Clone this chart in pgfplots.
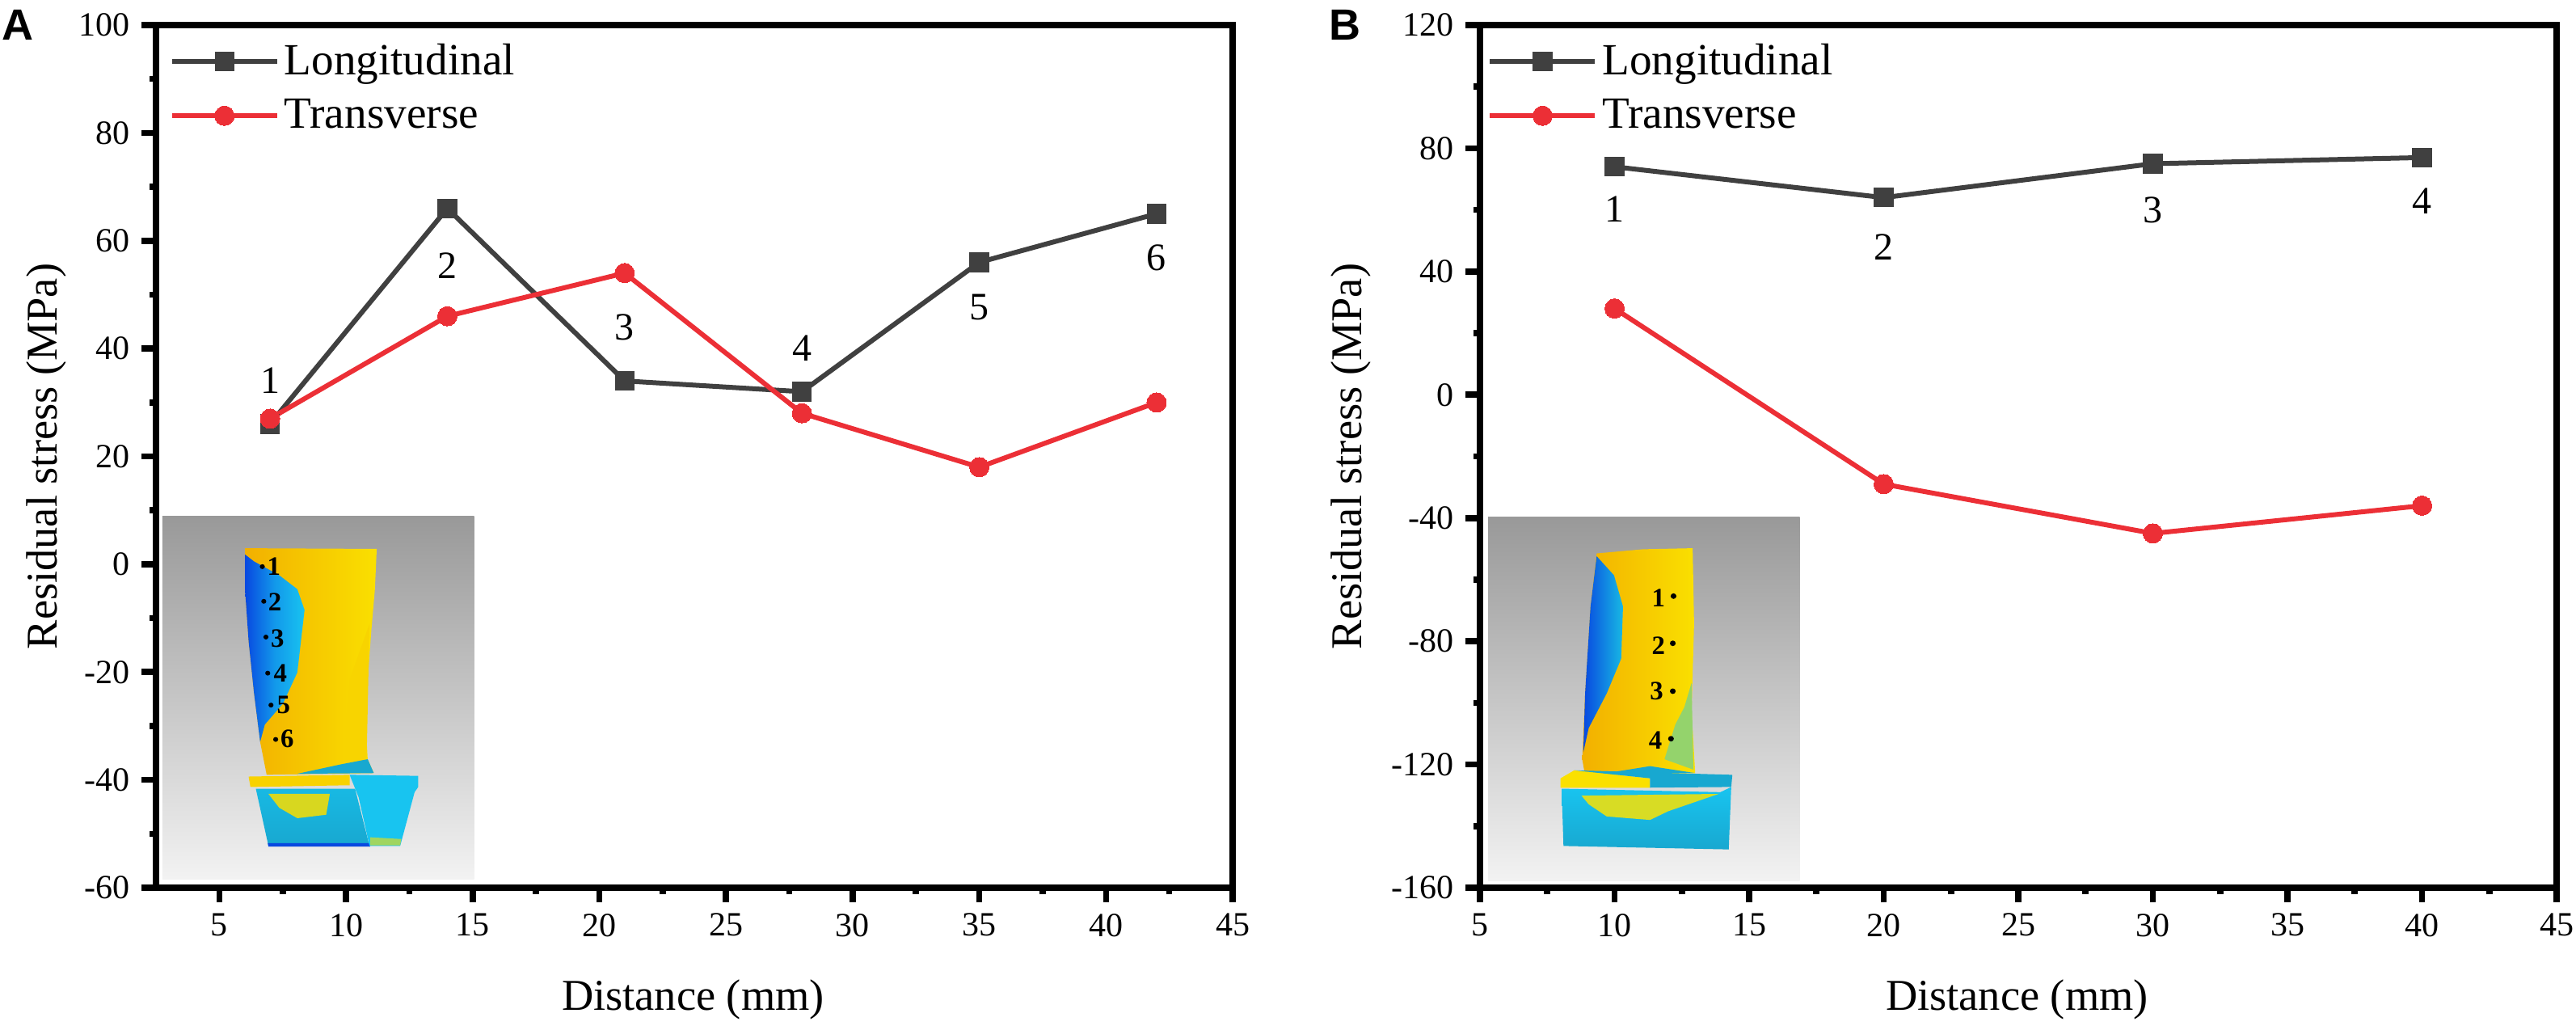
\documentclass[border=0pt]{standalone}
\usepackage{fontspec}
\setmainfont{Liberation Serif}
\newfontfamily\panelfont{Liberation Sans}
\usepackage{pgfplots}
\pgfplotsset{compat=1.18}
\definecolor{darkline}{HTML}{404040}
\definecolor{redline}{HTML}{EC2F36}
\definecolor{byellow}{HTML}{FAE000}
\definecolor{borange}{HTML}{F2B000}
\definecolor{bcyan}{HTML}{18C4F0}
\definecolor{bblue}{HTML}{0848E0}
\definecolor{bteal}{HTML}{18A8D0}
\tikzset{ptlabel/.style={font=\fontsize{12}{14}\selectfont,anchor=center}}
% 1 px of the reference = 0.25pt here
\pgfplotsset{
  panel/.style={
    scale only axis, width=333pt, height=266.75pt,
    axis line style={line width=1.9pt},
    tick pos=left,
    every tick/.style={black,line width=1.9pt},
    major tick length=4.5pt, minor tick length=2pt,
    minor tick num=1,
    tick align=outside,
    /pgf/number format/assume math mode=true,
    /pgf/number format/set thousands separator={},
    tick label style={font=\fontsize{10.5}{12}\selectfont},
    label style={font=\fontsize{13.6}{16}\selectfont},
    xlabel={Distance (mm)},
    ylabel={Residual stress (MPa)},
    xlabel style={at={(axis description cs:0.5,0)},anchor=center,yshift=-34.5pt,xshift=-0.4pt},
    xtick={5,10,...,45},
    legend cell align=left,
    legend image code/.code={
      \draw[##1,mark repeat=2,mark phase=2] plot coordinates {(0pt,0pt)(16.25pt,0pt)(32.5pt,0pt)};
    },
    clip=false,
  },
  longi/.style={color=darkline,line width=1.5pt,mark=square*,mark size=2.9pt,mark options={fill=darkline,draw=darkline,solid,line width=0pt}},
  trans/.style={color=redline,line width=1.5pt,mark=*,mark size=3pt,mark options={fill=redline,draw=redline,solid,line width=0pt}},
}
\begin{document}
\begin{tikzpicture}
\path[use as bounding box] (0,0) rectangle (796.75pt,318.25pt);

% inset A, coordinates as read in the crop
\begin{scope}[x=0.11161pt,y=-0.10730pt,shift={(25pt,168.25pt)}]
  \shade[top color=black!40,bottom color=black!5] (226,90) rectangle (1090,1135);
  \shade[left color=borange,right color=byellow] (455,182)--(820,184)--(815,300)--(805,420)--(795,560)--(790,700)--(795,790)--(812,830)--(515,835)--(497,740)--(480,600)--(465,450)--(455,300)--cycle;
  \fill[byellow!75!borange] (745,560)--(800,400)--(792,790)--(725,805)--cycle;
  \shade[left color=bblue,right color=bcyan,middle color=bblue!35!bcyan] (455,200)--(480,220)--(550,260)--(600,300)--(620,360)--(610,450)--(600,540)--(560,630)--(510,690)--(497,740)--(480,600)--(465,450)--(455,300)--cycle;
  \fill[bteal] (720,805)--(795,790)--(812,830)--(600,832)--cycle;
  \fill[byellow!70!borange] (465,840)--(745,835)--(745,865)--(470,870)--cycle;
  \shade[top color=bcyan!60!bteal,bottom color=bteal] (485,875)--(760,875)--(800,1040)--(520,1040)--cycle;
  \fill[bblue] (518,1032)--(800,1032)--(802,1042)--(520,1042)--cycle;
  \fill[byellow!85!bteal] (520,890)--(690,890)--(680,950)--(600,960)--(550,930)--cycle;
  \fill[bcyan] (745,835)--(935,838)--(935,870)--(925,885)--(885,1040)--(800,1040)--(770,900)--cycle;
  \fill[byellow!60!bcyan] (802,1015)--(888,1020)--(885,1038)--(802,1038)--cycle;
  \foreach \dx/\dy/\lx/\ly/\t in {503/235/535/235/1,507/335/538/338/2,513/438/545/442/3,518/542/553/542/4,527/634/562/634/5,540/733/572/730/6}{
    \fill[black] (\dx,\dy) circle[radius=7];
    \node[font=\fontsize{8.2}{10}\selectfont\bfseries,inner sep=0pt] at (\lx,\ly) {\t};
  }
\end{scope}

% inset B
\begin{scope}[x=0.11161pt,y=-0.10730pt,shift={(430pt,168.25pt)}]
  \shade[top color=black!40,bottom color=black!5] (271,93) rectangle (1135,1140);
  \shade[left color=borange,right color=byellow] (572,197)--(700,185)--(838,182)--(842,400)--(835,650)--(845,830)--(540,838)--(532,790)--(540,600)--(555,350)--cycle;
  \shade[left color=bblue,right color=bcyan!60!bteal] (572,205)--(620,260)--(645,350)--(640,500)--(600,600)--(550,700)--(535,770)--(540,600)--(555,350)--cycle;
  \fill[byellow!55!bcyan] (815,640)--(835,570)--(840,820)--(760,790)--(790,690)--cycle;
  \fill[bteal] (600,830)--(720,810)--(845,830)--cycle;
  \fill[byellow] (472,845)--(510,822)--(720,845)--(720,872)--(472,872)--cycle;
  \fill[bteal] (720,845)--(510,822)--(948,835)--(945,870)--(720,872)--cycle;
  \shade[top color=bcyan,bottom color=bteal] (475,875)--(915,885)--(945,870)--(938,1050)--(480,1040)--cycle;
  \fill[byellow!85!bcyan] (530,895)--(910,890)--(770,940)--(720,965)--(600,955)--(550,920)--cycle;
  \foreach \dx/\dy/\lx/\ly/\t in {785/320/743/325/1,783/456/743/462/2,783/594/738/594/3,778/731/735/735/4}{
    \fill[black] (\dx,\dy) circle[radius=8];
    \node[font=\fontsize{8.2}{10}\selectfont\bfseries,inner sep=0pt] at (\lx,\ly) {\t};
  }
\end{scope}

\begin{axis}[panel,
  at={(48.25pt,43.75pt)},anchor=south west,
  xmin=2.5,xmax=45,ymin=-60,ymax=100,
  ytick={-60,-40,...,100},
  ylabel style={at={(axis description cs:0,0.5)},anchor=center,rotate=0,yshift=34pt},
  legend style={at={(axis description cs:0.012,0.985)},anchor=north west,draw=none,fill=none,inner sep=0pt,
    font=\fontsize{13.8}{16}\selectfont,row sep=3pt,nodes={inner sep=1.5pt}},
]
\addplot[longi] coordinates {(7,26)(14,66)(21,34)(28,32)(35,56)(42,65)};
\addlegendentry{Longitudinal}
\addplot[trans] coordinates {(7,27)(14,46)(21,54)(28,28)(35,18)(42,30)};
\addlegendentry{Transverse}
\node[ptlabel] at (axis cs:7,34) {1};
\node[ptlabel] at (axis cs:14,55.3) {2};
\node[ptlabel] at (axis cs:21,44) {3};
\node[ptlabel] at (axis cs:28,40) {4};
\node[ptlabel] at (axis cs:35,47.7) {5};
\node[ptlabel] at (axis cs:42,56.9) {6};
\end{axis}

\begin{axis}[panel,
  at={(457.75pt,43.75pt)},anchor=south west,
  xmin=5,xmax=45,ymin=-160,ymax=120,
  ytick={-160,-120,...,120},
  ylabel style={at={(axis description cs:0,0.5)},anchor=center,rotate=0,yshift=40pt},
  legend style={at={(axis description cs:0.0065,0.985)},anchor=north west,draw=none,fill=none,inner sep=0pt,
    font=\fontsize{13.8}{16}\selectfont,row sep=3pt,nodes={inner sep=1.5pt}},
]
\addplot[longi] coordinates {(10,74)(20,64)(30,75)(40,77)};
\addlegendentry{Longitudinal}
\addplot[trans] coordinates {(10,28)(20,-29)(30,-45)(40,-36)};
\addlegendentry{Transverse}
\node[ptlabel] at (axis cs:10,60.2) {1};
\node[ptlabel] at (axis cs:20,48) {2};
\node[ptlabel] at (axis cs:30,60) {3};
\node[ptlabel] at (axis cs:40,63) {4};
\end{axis}

\node[font=\panelfont\bfseries\fontsize{13.5}{16}\selectfont,inner sep=0pt] at (5.5pt,310.5pt) {A};
\node[font=\panelfont\bfseries\fontsize{13.5}{16}\selectfont,inner sep=0pt] at (416pt,310.5pt) {B};
\end{tikzpicture}
\end{document}
